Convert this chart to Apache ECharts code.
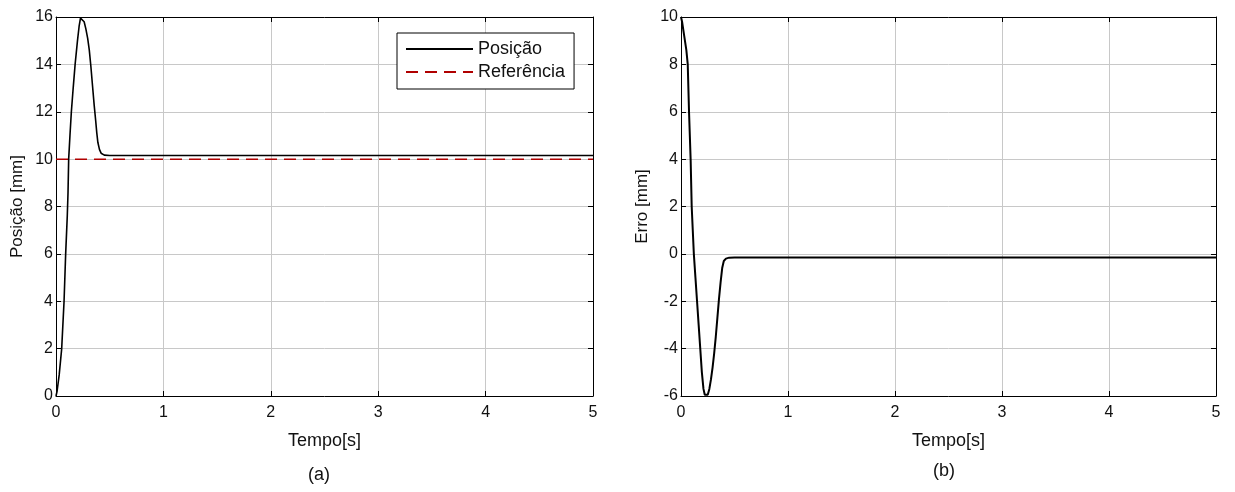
<!DOCTYPE html>
<html><head><meta charset="utf-8">
<script src="https://cdn.jsdelivr.net/npm/echarts@6/dist/echarts.min.js"></script>
<style>html,body{margin:0;padding:0;background:#fff}#c{width:1235px;height:492px}</style>
</head><body><div id="c"></div>
<script>
// Panel (a): position response
const posTime = [0, 0.01, 0.03, 0.053, 0.075, 0.09, 0.105, 0.112, 0.118, 0.13, 0.143, 0.16, 0.178, 0.2, 0.215, 0.228, 0.245, 0.262, 0.278, 0.295, 0.31, 0.325, 0.34, 0.355, 0.37, 0.38, 0.39, 0.405, 0.42, 0.45, 0.5, 0.7, 1, 2, 3, 4, 5];
const posValue = [0, 0.2, 0.9, 2, 4, 6, 7.6, 8.6, 10, 11, 12, 13, 14, 15, 15.6, 15.95, 15.95, 15.8, 15.5, 15.1, 14.6, 13.9, 13.1, 12.3, 11.6, 11.1, 10.7, 10.4, 10.25, 10.17, 10.15, 10.15, 10.15, 10.15, 10.15, 10.15, 10.15];
const refTime = [0, 5];
const refValue = [10, 10];
// Panel (b): error
const errTime = [0, 0.01, 0.03, 0.05, 0.063, 0.075, 0.09, 0.1, 0.11, 0.12, 0.135, 0.15, 0.165, 0.18, 0.195, 0.21, 0.222, 0.235, 0.25, 0.265, 0.28, 0.295, 0.31, 0.325, 0.34, 0.355, 0.37, 0.385, 0.4, 0.42, 0.45, 0.5, 1, 2, 3, 4, 5];
const errValue = [10, 9.8, 9.2, 8.6, 8, 6, 4, 2, 1, 0, -1, -2, -3, -4, -5, -5.7, -5.95, -6, -5.95, -5.7, -5.3, -4.8, -4.2, -3.5, -2.7, -1.9, -1.2, -0.6, -0.3, -0.2, -0.16, -0.15, -0.15, -0.15, -0.15, -0.15, -0.15];
const xTicks = [0, 1, 2, 3, 4, 5];
const yTicksA = [0, 2, 4, 6, 8, 10, 12, 14, 16];
const yTicksB = [-6, -4, -2, 0, 2, 4, 6, 8, 10];

const zip = (a, b) => a.map((v, i) => [v, b[i]]);
const font = 'Liberation Sans, Arial, sans-serif';
const gridCol = '#c8c8c8';

function xAx(gi, pos, main) {
  return {
    type: 'value', gridIndex: gi, position: pos,
    min: xTicks[0], max: xTicks[xTicks.length - 1], interval: 1,
    axisLine: { show: true, onZero: false, lineStyle: { color: '#000', width: 1 } },
    axisTick: { show: true, inside: true, length: 5, lineStyle: { color: '#000' } },
    axisLabel: { show: main, color: '#111', fontSize: 16, fontFamily: font, margin: 9 },
    splitLine: { show: main, lineStyle: { color: gridCol, width: 1 } },
    name: main ? 'Tempo[s]' : '', nameLocation: 'middle', nameGap: 36,
    nameTextStyle: { fontSize: 18, color: '#111', fontFamily: font }
  };
}
function yAx(gi, pos, main, ticks, name) {
  return {
    type: 'value', gridIndex: gi, position: pos,
    min: ticks[0], max: ticks[ticks.length - 1], interval: 2,
    axisLine: { show: true, onZero: false, lineStyle: { color: '#000', width: 1 } },
    axisTick: { show: true, inside: true, length: 5, lineStyle: { color: '#000' } },
    axisLabel: { show: main, color: '#111', fontSize: 16, fontFamily: font, margin: 3 },
    splitLine: { show: main, lineStyle: { color: gridCol, width: 1 } },
    name: main ? name : '', nameLocation: 'middle', nameGap: 30,
    nameTextStyle: { fontSize: 17, color: '#111', fontFamily: font }
  };
}

const chart = echarts.init(document.getElementById('c'), null, { renderer: 'canvas' });
chart.setOption({
  animation: false,
  backgroundColor: '#fff',
  grid: [
    { left: 56, top: 17, width: 537, height: 379 },
    { left: 681, top: 17, width: 535, height: 379 }
  ],
  title: [
    { text: '(a)', left: 303, top: 461, textStyle: { fontSize: 18, fontWeight: 'normal', color: '#111', fontFamily: font } },
    { text: '(b)', left: 928, top: 457, textStyle: { fontSize: 18, fontWeight: 'normal', color: '#111', fontFamily: font } }
  ],
  legend: {
    left: 397, top: 33, orient: 'vertical', align: 'left',
    itemWidth: 67, itemHeight: 14, itemGap: 5,
    padding: [7, 9, 8, 8],
    borderColor: '#000', borderWidth: 1, backgroundColor: '#fff', borderRadius: 0,
    itemStyle: { opacity: 0 },
    textStyle: { fontSize: 18, color: '#111', fontFamily: font },
    data: ['Posição', 'Referência']
  },
  xAxis: [xAx(0, 'bottom', true), xAx(0, 'top', false), xAx(1, 'bottom', true), xAx(1, 'top', false)],
  yAxis: [yAx(0, 'left', true, yTicksA, 'Posição [mm]'), yAx(0, 'right', false, yTicksA, ''),
          yAx(1, 'left', true, yTicksB, 'Erro [mm]'), yAx(1, 'right', false, yTicksB, '')],
  series: [
    { name: 'Referência', type: 'line', xAxisIndex: 0, yAxisIndex: 0, data: zip(refTime, refValue),
      symbol: 'none', lineStyle: { color: '#b00000', width: 1.5, type: [12, 7] }, itemStyle: { color: '#8a1010' }, z: 3 },
    { name: 'Posição', type: 'line', xAxisIndex: 0, yAxisIndex: 0, data: zip(posTime, posValue),
      symbol: 'none', lineStyle: { color: '#000', width: 1.6 }, itemStyle: { color: '#000' }, z: 4 },
    { name: 'Erro', type: 'line', xAxisIndex: 2, yAxisIndex: 2, data: zip(errTime, errValue),
      symbol: 'none', lineStyle: { color: '#000', width: 2 }, itemStyle: { color: '#000' }, z: 4 }
  ]
});
</script></body></html>
